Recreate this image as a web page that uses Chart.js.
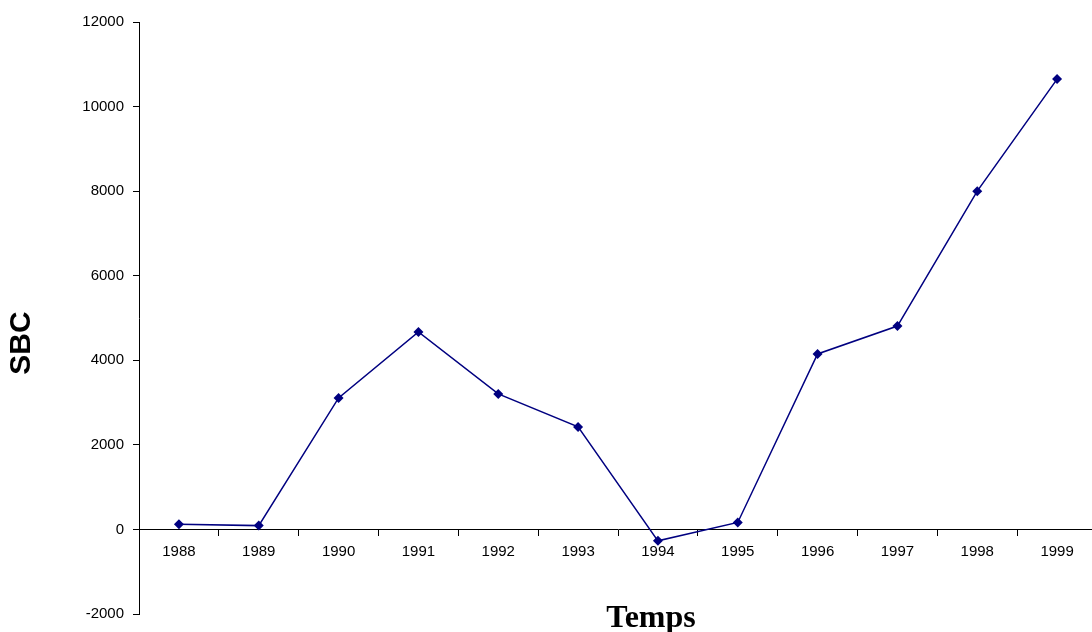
<!DOCTYPE html>
<html lang="fr">
<head>
<meta charset="UTF-8">
<title>SBC</title>
<style>
    html, body { margin: 0; padding: 0; background: #fff; overflow: hidden; }
    .wrap { width: 1102px; height: 632px; }
</style>
</head>
<body>
<div class="wrap"><canvas id="sbcChart" width="1102" height="632"></canvas></div>
<script src="https://cdn.jsdelivr.net/npm/chart.js"></script>
<script>
    // donnees
    const annees = ["1988", "1989", "1990", "1991", "1992", "1993", "1994", "1995", "1996", "1997", "1998", "1999"];
    const sbc = [125, 90, 3110, 4670, 3205, 2425, -270, 165, 4150, 4810, 8000, 10650];
    const yTicks = [-2000, 0, 2000, 4000, 6000, 8000, 10000, 12000];

    // titres des axes
    const titres = {
        id: "titres",
        afterDraw(chart) {
            const c = chart.ctx;
            c.save();
            c.fillStyle = "#000";
            c.font = "bold 32px 'Liberation Serif', serif";
            c.textAlign = "center";
            c.textBaseline = "alphabetic";
            c.fillText("Temps", 651, 627);
            c.translate(22, 343);
            c.rotate(-Math.PI / 2);
            c.font = "bold 30px 'Liberation Sans', Arial, sans-serif";
            c.textBaseline = "middle";
            c.fillText("SBC", 0, 0);
            c.restore();
        }
    };

    const ctx = document.getElementById("sbcChart").getContext("2d");
    new Chart(ctx, {
        type: "line",
        data: {
            labels: annees,
            datasets: [{
                label: "SBC",
                data: sbc,
                borderColor: "#000080",
                backgroundColor: "#000080",
                borderWidth: 1.5,
                pointStyle: "rectRot",
                pointRadius: 5,
                pointBorderWidth: 0,
                tension: 0
            }]
        },
        options: {
            responsive: false,
            animation: false,
            layout: { padding: { left: 0, top: 22, right: 1, bottom: 18 } },
            plugins: { legend: { display: false }, tooltip: { enabled: false } },
            scales: {
                x: {
                    position: { y: 0 },
                    offset: true,
                    grid: { offset: true, drawOnChartArea: false, tickLength: 6, color: "#000" },
                    border: { color: "#000", width: 1 },
                    ticks: {
                        color: "#000",
                        padding: 7,
                        maxRotation: 0,
                        font: { family: "'Liberation Sans', Arial, sans-serif", size: 15 }
                    }
                },
                y: {
                    min: -2000,
                    max: 12000,
                    afterFit(scale) { scale.width = 139; },
                    afterBuildTicks(scale) { scale.ticks = yTicks.map(v => ({ value: v })); },
                    grid: { drawOnChartArea: false, tickLength: 6, color: "#000" },
                    border: { color: "#000", width: 1 },
                    ticks: {
                        color: "#000",
                        padding: 9,
                        callback: v => String(v),
                        font: { family: "'Liberation Sans', Arial, sans-serif", size: 15 }
                    }
                }
            }
        },
        plugins: [titres]
    });
</script>
</body>
</html>
